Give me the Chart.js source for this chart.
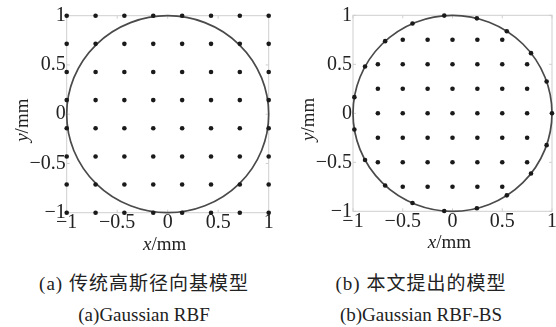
<!DOCTYPE html>
<html>
<head>
<meta charset="utf-8">
<script src="https://cdn.jsdelivr.net/npm/chart.js@4.4.0/dist/chart.umd.min.js"></script>
<style>
  body { margin: 0; background: #fff; width: 556px; height: 327px; overflow: hidden; position: relative; color: #222;
         font-family: "Liberation Serif", "Noto Sans CJK SC", serif; }
  .box { position: absolute; top: 0; height: 260px; }
  .cap { position: absolute; width: 280px; text-align: center; font-size: 19px; line-height: 22px; white-space: nowrap; }
  .zh { letter-spacing: 1px; }
</style>
</head>
<body>
<div class="box" style="left:0;width:280px"><canvas id="chartA" width="280" height="260"></canvas></div>
<div class="box" style="left:280px;width:276px"><canvas id="chartB" width="276" height="260"></canvas></div>
<div class="cap zh" style="left:4px;top:273px">(a) 传统高斯径向基模型</div>
<div class="cap" style="left:4px;top:304px">(a)Gaussian RBF</div>
<div class="cap zh" style="left:281px;top:273px">(b) 本文提出的模型</div>
<div class="cap" style="left:281px;top:304px">(b)Gaussian RBF-BS</div>
<script>
// axis ticks (both plots)
const tickVals = [-1, -0.5, 0, 0.5, 1];

// (a) regular 8x8 grid of centres
const aGrid = [-1, -0.714, -0.429, -0.143, 0.143, 0.429, 0.714, 1];

// (b) inner centres, row by row
const bRowY = [0.75, 0.5, 0.25, 0, -0.25, -0.5, -0.75];
const bRowX = [
  [-0.5, -0.25, 0, 0.25, 0.5],
  [-0.75, -0.5, -0.25, 0, 0.25, 0.5, 0.75],
  [-0.75, -0.5, -0.25, 0, 0.25, 0.5, 0.75],
  [-0.75, -0.5, -0.25, 0, 0.25, 0.5, 0.75],
  [-0.75, -0.5, -0.25, 0, 0.25, 0.5, 0.75],
  [-0.75, -0.5, -0.25, 0, 0.25, 0.5, 0.75],
  [-0.5, -0.25, 0, 0.25, 0.5]
];
// (b) centres on the boundary
const bEdgeX = [1, 0.946, 0.789, 0.546, 0.245, -0.083, -0.402, -0.677, -0.879, -0.986,
                -0.986, -0.879, -0.677, -0.402, -0.083, 0.245, 0.546, 0.789, 0.946];
const bEdgeY = [0, 0.325, 0.614, 0.837, 0.969, 0.997, 0.916, 0.736, 0.477, 0.165,
                -0.165, -0.477, -0.736, -0.916, -0.997, -0.969, -0.837, -0.614, -0.325];

// domain boundary
const circleCenter = [0, 0];
const circleRadius = 1;

const aPoints = [];
aGrid.forEach(y => aGrid.forEach(x => aPoints.push({x, y})));
const bInner = [];
bRowY.forEach((y, i) => bRowX[i].forEach(x => bInner.push({x, y})));
const bEdge = bEdgeX.map((x, i) => ({x, y: bEdgeY[i]}));

const FONT = 'Liberation Serif';
const fmt = v => v < 0 ? '\u2212' + Math.abs(v) : String(v);

const frame = {
  id: 'frame',
  beforeDatasetsDraw(chart) {
    const {ctx, chartArea: a, scales: {x, y}} = chart;
    ctx.save();
    ctx.strokeStyle = '#cfcfcf';
    ctx.lineWidth = 1;
    ctx.strokeRect(a.left, a.top, a.right - a.left, a.bottom - a.top);
    ctx.beginPath();
    tickVals.forEach(v => {
      const px = x.getPixelForValue(v), py = y.getPixelForValue(v);
      ctx.moveTo(px, a.bottom); ctx.lineTo(px, a.bottom - 3);
      ctx.moveTo(px, a.top); ctx.lineTo(px, a.top + 3);
      ctx.moveTo(a.left, py); ctx.lineTo(a.left + 3, py);
      ctx.moveTo(a.right, py); ctx.lineTo(a.right - 3, py);
    });
    ctx.stroke();
    // circle boundary
    const cx = x.getPixelForValue(circleCenter[0]);
    const cy = y.getPixelForValue(circleCenter[1]);
    const rx = Math.abs(x.getPixelForValue(circleCenter[0] + circleRadius) - cx);
    const ry = Math.abs(y.getPixelForValue(circleCenter[1] + circleRadius) - cy);
    ctx.beginPath();
    ctx.ellipse(cx, cy, rx, ry, 0, 0, Math.PI * 2);
    ctx.strokeStyle = '#4a4a4a';
    ctx.lineWidth = 1.7;
    ctx.stroke();
    ctx.restore();
  }
};

function mixedLabel(ctx, letter, cx, cy, rot) {
  const it = 'italic 19px "' + FONT + '"', up = '19px "' + FONT + '"';
  ctx.font = it; const w1 = ctx.measureText(letter).width;
  ctx.font = up; const w2 = ctx.measureText('/mm').width;
  ctx.save();
  ctx.translate(cx, cy);
  ctx.rotate(rot);
  ctx.fillStyle = '#222';
  ctx.textBaseline = 'middle';
  ctx.textAlign = 'left';
  const x0 = -(w1 + w2) / 2;
  ctx.font = it; ctx.fillText(letter, x0, 0);
  ctx.font = up; ctx.fillText('/mm', x0 + w1, 0);
  ctx.restore();
}

const titles = {
  id: 'titles',
  afterDraw(chart) {
    const {ctx, chartArea: a} = chart;
    mixedLabel(ctx, 'x', (a.left + a.right) / 2 - 3, a.bottom + 32, 0);
    mixedLabel(ctx, 'y', a.left - 44, (a.top + a.bottom) / 2 + 6, -Math.PI / 2);
  }
};

function makeChart(id, datasets, area, h) {
  const tickFont = {family: FONT, size: 20};
  return new Chart(document.getElementById(id), {
    type: 'scatter',
    data: {datasets},
    options: {
      responsive: false,
      animation: false,
      events: [],
      layout: {padding: {left: 0, top: area.top, right: area.right, bottom: 0}},
      plugins: {legend: {display: false}, tooltip: {enabled: false}},
      scales: {
        x: {
          type: 'linear', min: -1, max: 1,
          grid: {display: false, drawTicks: false},
          border: {display: false},
          ticks: {stepSize: 0.5, padding: -2, color: '#222', font: tickFont, callback: fmt,
                  maxRotation: 0, autoSkip: false},
          afterFit: s => { s.height = h - area.bottom; s.paddingLeft = 0; s.paddingRight = 0; }
        },
        y: {
          type: 'linear', min: -1, max: 1,
          grid: {display: false, drawTicks: false},
          border: {display: false},
          ticks: {stepSize: 0.5, padding: 1, color: '#222', font: tickFont, callback: fmt, autoSkip: false},
          afterFit: s => { s.width = area.left; s.paddingTop = 0; s.paddingBottom = 0; }
        }
      }
    },
    plugins: [frame, titles]
  });
}

const dot = {pointRadius: 2.3, pointBackgroundColor: '#1a1a1a', pointBorderWidth: 0, clip: false, showLine: false};

makeChart('chartA', [Object.assign({data: aPoints}, dot)],
  {left: 66.7, top: 15.7, right: 280 - 268.7, bottom: 212.7}, 260);

makeChart('chartB', [Object.assign({data: bInner}, dot), Object.assign({data: bEdge}, dot)],
  {left: 73, top: 15.3, right: 0.4, bottom: 211.3}, 260);
</script>
</body>
</html>
